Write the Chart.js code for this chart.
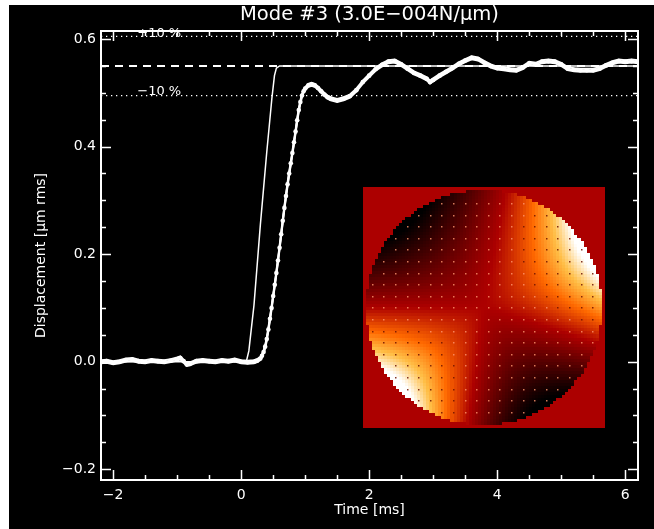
<!DOCTYPE html>
<html>
<head>
<meta charset="utf-8">
<script src="https://cdn.jsdelivr.net/npm/chart.js@4.4.1/dist/chart.umd.min.js"></script>
<style>
  html, body { margin: 0; padding: 0; background: #fff; }
  canvas { display: block; }
</style>
</head>
<body>
<canvas id="myChart" width="654" height="529"></canvas>
<script>
// axis ranges and tick labels
var xRange = [-2.19, 6.2];
var yRange = [-0.22, 0.615];
var xTickValues = [-2, 0, 2, 4, 6];
var yTickValues = [-0.2, 0.0, 0.2, 0.4, 0.6];
var xMinorStep = 0.5;
var yMinorStep = 0.05;

// reference levels
var targetLevel = 0.55;
var plusLevel = 0.605;
var minusLevel = 0.495;
var levelLabels = ['+10 %', '\u221210 %'];
var levelLabelTime = -1.28;

// commanded (model) step, thin line
var modelTime = [-2.19, 0.08, 0.12, 0.2, 0.3, 0.4, 0.48, 0.52, 0.55, 0.6, 6.2];
var modelDisp = [0.0, 0.0, 0.02, 0.105, 0.255, 0.39, 0.49, 0.532, 0.546, 0.55, 0.55];

// measured response, thick line with symbols
var measTime = [-2.19, -2.1, -2.0, -1.9, -1.8, -1.7, -1.6, -1.5, -1.4, -1.3, -1.2, -1.1, -1.0, -0.95, -0.9, -0.85, -0.8,
    -0.7, -0.6, -0.5, -0.4, -0.3, -0.2, -0.1, 0.0, 0.1, 0.2, 0.25, 0.3, 0.325, 0.35, 0.375, 0.4, 0.425, 0.45, 0.475,
    0.5, 0.525, 0.55, 0.575, 0.6, 0.625, 0.65, 0.675, 0.7, 0.725, 0.75, 0.775, 0.8, 0.825, 0.85, 0.875, 0.9, 0.925,
    0.95, 0.975, 1.0, 1.05, 1.1, 1.15, 1.2, 1.25, 1.3, 1.35, 1.4, 1.5, 1.6, 1.7, 1.8, 1.9, 2.0, 2.1, 2.2, 2.3, 2.4,
    2.5, 2.6, 2.7, 2.8, 2.9, 2.95, 3.0, 3.1, 3.2, 3.3, 3.4, 3.5, 3.6, 3.7, 3.8, 3.9, 4.0, 4.1, 4.2, 4.3, 4.4, 4.5,
    4.6, 4.7, 4.8, 4.9, 5.0, 5.1, 5.2, 5.3, 5.4, 5.5, 5.6, 5.7, 5.8, 5.9, 6.0, 6.1, 6.2];
var measDisp = [0.0, 0.001, -0.002, 0.0, 0.003, 0.004, 0.001, 0.0, 0.002, 0.001, 0.0, 0.002, 0.005, 0.007, 0.001, -0.005, -0.004,
    0.001, 0.002, 0.001, 0.0, 0.002, 0.001, 0.003, 0.0, -0.001, 0.0, 0.002, 0.006, 0.011, 0.018, 0.028, 0.042, 0.06, 0.08, 0.1,
    0.122, 0.143, 0.165, 0.188, 0.212, 0.237, 0.262, 0.286, 0.308, 0.33, 0.35, 0.369, 0.388, 0.408, 0.428, 0.449, 0.468, 0.483,
    0.495, 0.503, 0.508, 0.514, 0.516, 0.514, 0.509, 0.503, 0.497, 0.492, 0.489, 0.486, 0.489, 0.494, 0.505, 0.52, 0.532, 0.544, 0.552, 0.558, 0.559,
    0.553, 0.545, 0.537, 0.532, 0.526, 0.52, 0.524, 0.532, 0.539, 0.546, 0.554, 0.56, 0.565, 0.563, 0.556, 0.55, 0.546, 0.545, 0.543, 0.542, 0.547, 0.555,
    0.553, 0.558, 0.559, 0.558, 0.553, 0.545, 0.543, 0.542, 0.542, 0.542, 0.545, 0.551, 0.556, 0.559, 0.558, 0.559, 0.558];

// inset mode map, placed in data units
var insetX = [1.9, 5.68];
var insetY = [-0.123, 0.325];

var FONT = '"DejaVu Sans", sans-serif';

function toPoints(xs, ys) {
    return xs.map(function (x, i) { return { x: x, y: ys[i] }; });
}

function fmt(v, d) {
    return v.toFixed(d).replace('-', '\u2212');
}

// red temperature colour table
function redTemp(s) {
    var stops = [[0, 0, 0, 0], [0.45, 172, 0, 0], [0.7, 255, 105, 0], [0.86, 255, 190, 70], [1, 255, 255, 255]];
    s = Math.max(0, Math.min(1, s));
    for (var k = 1; k < stops.length; k++) {
        if (s <= stops[k][0]) {
            var a = stops[k - 1], b = stops[k];
            var t = (s - a[0]) / (b[0] - a[0]);
            return [a[1] + (b[1] - a[1]) * t, a[2] + (b[2] - a[2]) * t, a[3] + (b[3] - a[3]) * t];
        }
    }
    return [255, 255, 255];
}

function modeValue(u, w) {
    var r = Math.sqrt(u * u + w * w);
    var th = Math.atan2(w, u);
    var phi = (36 - 9 * Math.cos(th)) * Math.PI / 180;
    return 1.1 * Math.pow(r, 1.5) * Math.cos(2 * (th - phi));
}

function modeShade(f) {
    return f > 0 ? 0.45 + 0.55 * f : 0.45 + 0.45 * f;
}

var framePlugin = {
    id: 'frame',
    beforeDraw: function (chart) {
        var c = chart.ctx;
        c.save();
        c.fillStyle = '#fff';
        c.fillRect(0, 0, chart.width, chart.height);
        c.fillStyle = '#000';
        c.fillRect(9, 5, chart.width - 9, chart.height - 5);
        c.restore();
    },
    afterDatasetDraw: function (chart, args) {
        // IDL style thick line: repeat the path shifted up and down
        if (args.index !== 4) return;
        var c = chart.ctx, a = chart.chartArea;
        c.save();
        c.beginPath();
        c.rect(a.left, a.top, a.right - a.left, a.bottom - a.top);
        c.clip();
        [-1.5, 1.5].forEach(function (dy) {
            c.save();
            c.translate(0, dy);
            args.meta.dataset.draw(c, a);
            c.restore();
        });
        c.restore();
    },
    afterDraw: function (chart) {
        var c = chart.ctx, a = chart.chartArea;
        var xs = chart.scales.x, ys = chart.scales.y;

        // inset map
        var px0 = xs.getPixelForValue(insetX[0]), px1 = xs.getPixelForValue(insetX[1]);
        var py0 = ys.getPixelForValue(insetY[1]), py1 = ys.getPixelForValue(insetY[0]);
        var N = 80;
        var off = document.createElement('canvas');
        off.width = N; off.height = N;
        var octx = off.getContext('2d');
        var img = octx.createImageData(N, N);
        var rad = 0.975;
        for (var j = 0; j < N; j++) {
            for (var i = 0; i < N; i++) {
                var u = ((i + 0.5) / N * 2 - 1) / rad;
                var w = (1 - (j + 0.5) / N * 2) / rad;
                var col;
                if (u * u + w * w > 1) col = [172, 0, 0];
                else col = redTemp(modeShade(modeValue(u, w)));
                var p = (j * N + i) * 4;
                img.data[p] = col[0]; img.data[p + 1] = col[1]; img.data[p + 2] = col[2]; img.data[p + 3] = 255;
            }
        }
        octx.putImageData(img, 0, 0);
        c.save();
        c.imageSmoothingEnabled = false;
        c.drawImage(off, px0, py0, px1 - px0, py1 - py0);
        // actuator dots
        var cx = (px0 + px1) / 2, cy = (py0 + py1) / 2, R = (px1 - px0) / 2 * rad;
        var sp = 11.6;
        for (var gy = cy - 10 * sp; gy <= cy + 10 * sp; gy += sp) {
            for (var gx = cx - 10 * sp + 4; gx <= cx + 10 * sp; gx += sp) {
                var du = (gx - cx) / R, dw = -(gy - cy) / R;
                if (du * du + dw * dw > 0.96) continue;
                var s = modeShade(modeValue(du, dw));
                c.fillStyle = s > 0.62 ? 'rgba(110,20,0,0.85)' : 'rgba(255,150,110,0.8)';
                c.fillRect(Math.round(gx), Math.round(gy), 1.5, 1.5);
            }
        }
        c.restore();

        // level labels
        c.save();
        c.fillStyle = '#fff';
        c.font = '13px ' + FONT;
        c.textAlign = 'center';
        c.textBaseline = 'alphabetic';
        var lx = xs.getPixelForValue(levelLabelTime);
        c.fillText(levelLabels[0], lx, ys.getPixelForValue(plusLevel) + 0.5);
        c.fillText(levelLabels[1], lx, ys.getPixelForValue(minusLevel) - 0.5);
        c.restore();

        // box and inward ticks
        c.save();
        c.strokeStyle = '#fff';
        c.lineWidth = 2;
        c.strokeRect(a.left, a.top, a.right - a.left, a.bottom - a.top);
        c.lineWidth = 1.5;
        c.beginPath();
        var v, p, len;
        for (v = xTickValues[0]; v <= xTickValues[xTickValues.length - 1] + 1e-9; v += xMinorStep) {
            p = Math.round(xs.getPixelForValue(v)) + 0.5;
            len = Math.abs(v / 2 - Math.round(v / 2)) < 1e-6 ? 10 : 5;
            c.moveTo(p, a.bottom); c.lineTo(p, a.bottom - len);
            c.moveTo(p, a.top); c.lineTo(p, a.top + len);
        }
        for (v = yTickValues[0]; v <= yTickValues[yTickValues.length - 1] + 1e-9; v += yMinorStep) {
            p = Math.round(ys.getPixelForValue(v)) + 0.5;
            len = Math.abs(v / 0.2 - Math.round(v / 0.2)) < 1e-6 ? 10 : 5;
            c.moveTo(a.left, p); c.lineTo(a.left + len, p);
            c.moveTo(a.right, p); c.lineTo(a.right - len, p);
        }
        c.stroke();
        c.restore();
    }
};

var ctx = document.getElementById('myChart').getContext('2d');
var myChart = new Chart(ctx, {
    type: 'scatter',
    data: {
        datasets: [{
            label: '+10 %',
            data: toPoints(xRange, [plusLevel, plusLevel]),
            showLine: true,
            borderColor: '#fff',
            borderWidth: 1.3,
            borderDash: [1.3, 3.7],
            pointRadius: 0
        }, {
            label: '-10 %',
            data: toPoints(xRange, [minusLevel, minusLevel]),
            showLine: true,
            borderColor: '#fff',
            borderWidth: 1.3,
            borderDash: [1.3, 3.7],
            pointRadius: 0
        }, {
            label: 'Target',
            data: toPoints(xRange, [targetLevel, targetLevel]),
            showLine: true,
            borderColor: '#fff',
            borderWidth: 2,
            borderDash: [8, 6],
            pointRadius: 0
        }, {
            label: 'Command',
            data: toPoints(modelTime, modelDisp),
            showLine: true,
            borderColor: '#fff',
            borderWidth: 1.5,
            pointRadius: 0
        }, {
            label: 'Measured',
            data: toPoints(measTime, measDisp),
            showLine: true,
            borderColor: '#fff',
            borderWidth: 2,
            pointRadius: 2.3,
            pointBackgroundColor: '#fff',
            pointBorderWidth: 0
        }]
    },
    options: {
        responsive: false,
        animation: false,
        events: [],
        layout: { padding: { left: 0, right: 16, top: 0, bottom: 0 } },
        plugins: {
            legend: { display: false },
            tooltip: { enabled: false },
            title: {
                display: true,
                fullSize: false,
                text: 'Mode #3 (3.0E\u2212004N/\u03bcm)',
                color: '#fff',
                font: { family: FONT, size: 19.5, weight: 'normal', lineHeight: 1.2 },
                padding: { top: 3, bottom: 4.6 }
            }
        },
        scales: {
            x: {
                type: 'linear',
                min: xRange[0],
                max: xRange[1],
                grid: { display: false, drawTicks: false },
                border: { display: false },
                afterBuildTicks: function (scale) {
                    scale.ticks = xTickValues.map(function (v) { return { value: v }; });
                },
                afterFit: function (scale) { scale.height = 49; },
                ticks: {
                    color: '#fff',
                    padding: 7,
                    maxRotation: 0,
                    font: { family: FONT, size: 14 },
                    callback: function (v) { return fmt(v, 0); }
                },
                title: {
                    display: true,
                    text: 'Time [ms]',
                    color: '#fff',
                    font: { family: FONT, size: 14, lineHeight: 1.2 },
                    padding: { top: 0, bottom: 10 }
                }
            },
            y: {
                type: 'linear',
                min: yRange[0],
                max: yRange[1],
                grid: { display: false, drawTicks: false },
                border: { display: false },
                afterBuildTicks: function (scale) {
                    scale.ticks = yTickValues.map(function (v) { return { value: v }; });
                },
                afterFit: function (scale) { scale.width = 101; },
                ticks: {
                    color: '#fff',
                    padding: 5,
                    font: { family: FONT, size: 14 },
                    callback: function (v) { return fmt(v, 1); }
                },
                title: {
                    display: true,
                    text: 'Displacement [\u03bcm rms]',
                    color: '#fff',
                    font: { family: FONT, size: 14, lineHeight: 1.2 },
                    padding: { top: 33, bottom: 0 }
                }
            }
        }
    },
    plugins: [framePlugin]
});
</script>
</body>
</html>
